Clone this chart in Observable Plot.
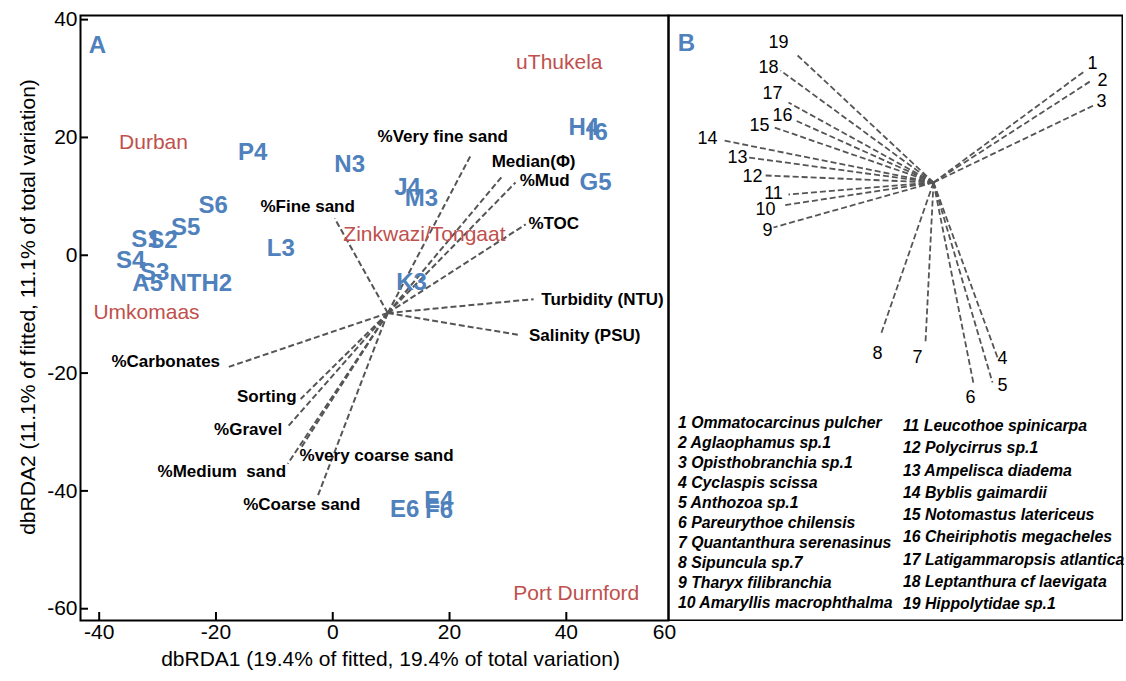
<!DOCTYPE html>
<html>
<head>
<meta charset="utf-8">
<script src="https://cdn.jsdelivr.net/npm/d3@7"></script>
<script src="https://cdn.jsdelivr.net/npm/@observablehq/plot@0.6"></script>
<style>
  body { margin: 0; background: #fff; }
  #wrap { position: relative; width: 1126px; height: 681px; font-family: "Liberation Sans", Arial, sans-serif; }
  #panelA { position: absolute; left: 0; top: 0; }
  #panelB { position: absolute; left: 667px; top: 14px; }
  .sp { position: absolute; font-weight: bold; font-style: italic; font-size: 15.8px; line-height: 20px; white-space: nowrap; color: #000; }
</style>
</head>
<body>
<div id="wrap">
  <div id="panelA"></div>
  <div id="panelB"></div>
</div>
<script>
// ---- Panel A: dbRDA ordination of sites ----
const sampleNames = ["P4", "N3", "J4", "M3", "H4", "I6", "G5", "S6", "S5", "S1", "S2", "S4", "S3", "A5", "NTH2", "L3", "K3", "E6", "E4", "F6"];
const sampleX = [-13.7, 2.9, 12.8, 15.2, 43.0, 45.4, 45.0, -20.5, -25.2, -32.0, -29.1, -34.6, -30.5, -31.7, -22.6, -8.9, 13.5, 12.3, 18.2, 18.2];
const sampleY = [17.4, 15.4, 11.5, 9.6, 21.8, 20.8, 12.4, 8.5, 4.7, 2.7, 2.5, -0.8, -2.9, -4.7, -4.7, 1.2, -4.6, -43.1, -41.6, -43.3];

const regionNames = ["uThukela", "Durban", "Zinkwazi/Tongaat", "Umkomaas", "Port Durnford"];
const regionX = [38.8, -30.7, 15.7, -31.9, 41.7];
const regionY = [32.8, 19.1, 3.55, -9.6, -57.4];

// Environmental predictor vectors (shared origin)
const envOrigin = [9.42, -9.81];
const envNames = ["%Very fine sand", "Median(Φ)", "%Mud", "%TOC", "Turbidity (NTU)", "Salinity (PSU)", "%Fine sand",
  "%Carbonates", "Sorting", "%Gravel", "%Medium  sand", "%very coarse sand", "%Coarse sand"];
const envX = [23.6, 29.1, 31.3, 33.05, 34.4, 31.7, 0.34, -17.8, -5.5, -7.7, -7.7, -5.5, -2.6];
const envY = [16.9, 13.5, 12.35, 5.25, -7.45, -13.5, 6.26, -18.95, -24.4, -29.1, -35.4, -32.8, -40.95];
const envLabelX = [18.84, 34.4, 36.3, 37.85, 46.2, 43.15, -4.3, -28.6, -11.3, -14.5, -19.0, 7.5, -5.3];
const envLabelY = [20.1, 15.9, 12.7, 5.4, -7.45, -13.7, 8.3, -18.1, -23.9, -29.6, -36.7, -34.0, -42.3];

const xTicks = [-40, -20, 0, 20, 40];
const yTicks = [40, 20, 0, -20, -40, -60];
const xTitle = "dbRDA1 (19.4% of fitted, 19.4% of total variation)";
const yTitle = "dbRDA2 (11.1% of fitted, 11.1% of total variation)";

// ---- Panel B: species vectors ----
const speciesNames = ["Ommatocarcinus pulcher", "Aglaophamus sp.1", "Opisthobranchia sp.1", "Cyclaspis scissa",
  "Anthozoa sp.1", "Pareurythoe chilensis", "Quantanthura serenasinus", "Sipuncula sp.7", "Tharyx filibranchia",
  "Amaryllis macrophthalma", "Leucothoe spinicarpa", "Polycirrus sp.1", "Ampelisca diadema", "Byblis gaimardii",
  "Notomastus latericeus", "Cheiriphotis megacheles", "Latigammaropsis atlantica", "Leptanthura cf laevigata",
  "Hippolytidae sp.1"];
const speciesX = [0.76, 0.79, 0.80, 0.32, 0.295, 0.20, -0.04, -0.265, -0.80, -0.755, -0.725, -0.84, -0.925, -1.05, -0.795, -0.69, -0.725, -0.765, -0.69];
const speciesY = [0.56, 0.51, 0.385, -0.875, -1.0, -1.005, -0.80, -0.765, -0.225, -0.115, -0.06, 0.035, 0.125, 0.21, 0.275, 0.31, 0.40, 0.56, 0.645];
const speciesLabelX = [0.795, 0.845, 0.84, 0.345, 0.345, 0.185, -0.08, -0.28, -0.83, -0.84, -0.80, -0.905, -0.98, -1.13, -0.87, -0.755, -0.805, -0.825, -0.775];
const speciesLabelY = [0.595, 0.51, 0.405, -0.88, -1.015, -1.075, -0.875, -0.855, -0.24, -0.135, -0.055, 0.03, 0.125, 0.22, 0.285, 0.335, 0.445, 0.575, 0.70];

const FONT = '"Liberation Sans", Arial, sans-serif';
const BLUE = "#4f81bd";
const RED = "#c0504d";
const DASH = "#555555";

const samples = sampleNames.map((name, i) => ({name, x: sampleX[i], y: sampleY[i]}));
const regions = regionNames.map((name, i) => ({name, x: regionX[i], y: regionY[i]}));
const env = envNames.map((name, i) => ({name, x: envX[i], y: envY[i], lx: envLabelX[i], ly: envLabelY[i]}));
const species = speciesNames.map((name, i) => ({id: String(i + 1), name, x: speciesX[i], y: speciesY[i], lx: speciesLabelX[i], ly: speciesLabelY[i]}));

// plain hyphen-minus tick labels
const fmt = (d) => String(d);

const plotA = Plot.plot({
  width: 680,
  height: 681,
  marginLeft: 80,
  marginRight: 12,
  marginTop: 15,
  marginBottom: 61,
  x: {domain: [-43.2, 57.5], label: null},
  y: {domain: [-62, 40.7], label: null},
  style: {fontFamily: FONT, background: "transparent", color: "#000"},
  marks: [
    // tick labels
    Plot.axisX(xTicks, {tickSize: 0, tickPadding: 4, fontSize: 21, tickFormat: fmt, label: null}),
    Plot.axisY(yTicks, {tickSize: 0, tickPadding: 3, fontSize: 21, tickFormat: fmt, label: null}),
    // inward tick marks
    Plot.axisX(xTicks, {tickSize: 8, dy: -8, strokeWidth: 2, tickFormat: () => "", label: null}),
    Plot.axisY(yTicks, {tickSize: 8, dx: 8, strokeWidth: 2, tickFormat: () => "", label: null}),
    Plot.text(["60"], {frameAnchor: "bottom-right", textAnchor: "middle", lineAnchor: "top", dx: -4, dy: 4, fontSize: 21}),
    // axis titles
    Plot.text([xTitle], {frameAnchor: "bottom", textAnchor: "middle", dx: 16, dy: 45, fontSize: 21}),
    Plot.text([yTitle], {frameAnchor: "left", textAnchor: "middle", rotate: -90, dx: -52, dy: -11, fontSize: 21}),
    // predictor vectors
    Plot.link(env, {x1: () => envOrigin[0], y1: () => envOrigin[1], x2: "x", y2: "y",
      stroke: DASH, strokeWidth: 2, strokeDasharray: "6,3"}),
    Plot.text(env, {x: "lx", y: "ly", text: "name", fontSize: 17, fontWeight: "bold", fill: "#000"}),
    // region names
    Plot.text(regions, {x: "x", y: "y", text: "name", fontSize: 21, fill: RED}),
    // site labels
    Plot.text(samples, {x: "x", y: "y", text: "name", fontSize: 24, fontWeight: "bold", fill: BLUE}),
    Plot.text(["A"], {frameAnchor: "top-left", textAnchor: "middle", dx: 17, dy: 20, fontSize: 24, fontWeight: "bold", fill: BLUE}),
    Plot.frame({stroke: "#000", strokeWidth: 2})
  ]
});
document.getElementById("panelA").appendChild(plotA);

const plotB = Plot.plot({
  width: 456,
  height: 607,
  margin: 1,
  x: {domain: [-1.325, 0.945], axis: null},
  y: {domain: [-2.19, 0.835], axis: null},
  style: {fontFamily: FONT, background: "transparent", color: "#000"},
  marks: [
    Plot.link(species, {x1: () => 0, y1: () => 0, x2: "x", y2: "y",
      stroke: DASH, strokeWidth: 1.8, strokeDasharray: "6,3"}),
    Plot.text(species, {x: "lx", y: "ly", text: "id", fontSize: 18, fill: "#000"}),
    Plot.text(["B"], {frameAnchor: "top-left", textAnchor: "middle", dx: 18, dy: 18, fontSize: 24, fontWeight: "bold", fill: BLUE}),
    Plot.frame({stroke: "#000", strokeWidth: 2})
  ]
});
document.getElementById("panelB").appendChild(plotB);

// species key, two columns
const wrap = document.getElementById("wrap");
species.forEach((s, i) => {
  const div = document.createElement("div");
  div.className = "sp";
  const col = i < 10 ? 0 : 1;
  const row = col === 0 ? i : i - 10;
  const centre = col === 0 ? 422.7 + row * 20.07 : 426 + row * 22.25;
  div.style.left = (col === 0 ? 678 : 903) + "px";
  div.style.top = (centre - 10) + "px";
  div.textContent = s.id + " " + s.name;
  wrap.appendChild(div);
});
</script>
</body>
</html>
